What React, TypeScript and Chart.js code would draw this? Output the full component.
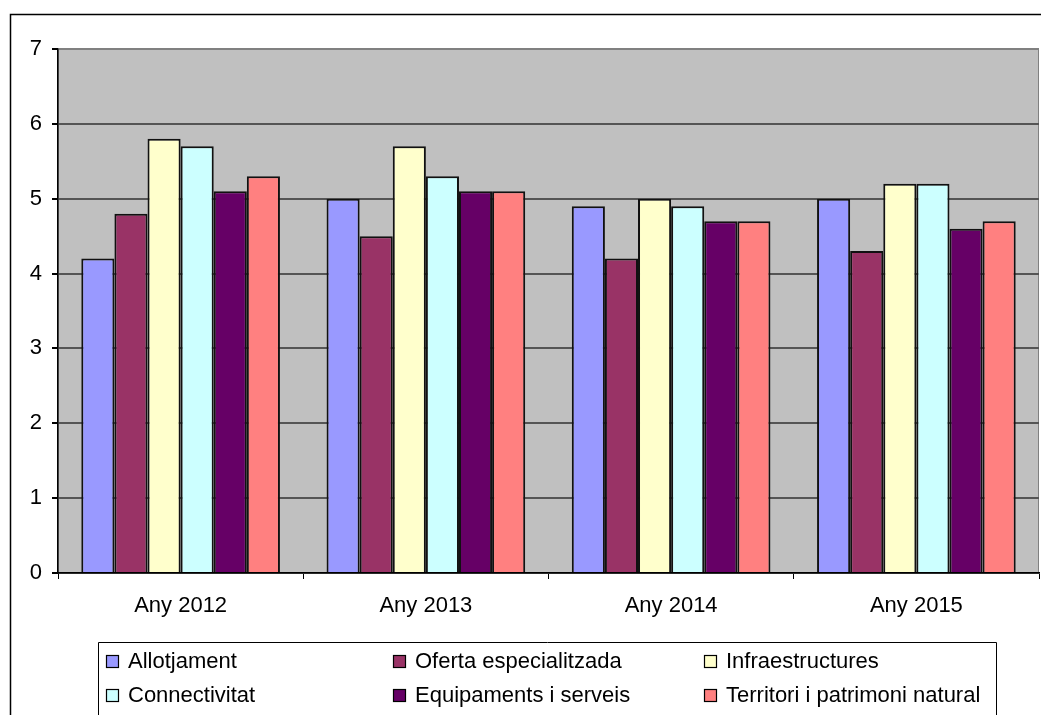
import React, { useEffect, useRef } from "react";
import { Chart, registerables } from "chart.js";

Chart.register(...registerables);

const categories = ["Any 2012", "Any 2013", "Any 2014", "Any 2015"];
const seriesNames = [
  "Allotjament",
  "Oferta especialitzada",
  "Infraestructures",
  "Connectivitat",
  "Equipaments i serveis",
  "Territori i patrimoni natural",
];
const allotjament = [4.2, 5.0, 4.9, 5.0];
const ofertaEspecialitzada = [4.8, 4.5, 4.2, 4.3];
const infraestructures = [5.8, 5.7, 5.0, 5.2];
const connectivitat = [5.7, 5.3, 4.9, 5.2];
const equipaments = [5.1, 5.1, 4.7, 4.6];
const territori = [5.3, 5.1, 4.7, 4.7];
const seriesColors = ["#9999FF", "#993366", "#FFFFCC", "#CCFFFF", "#660066", "#FF8080"];
const yMin = 0;
const yMax = 7;
const yStep = 1;

const FONT = "'Liberation Sans', Arial, sans-serif";

const framePlugin = {
  id: "frame",
  beforeDraw(chart: any) {
    const { ctx, chartArea, width, height } = chart;
    ctx.save();
    ctx.fillStyle = "#ffffff";
    ctx.fillRect(0, 0, width, height);
    ctx.fillStyle = "#C0C0C0";
    ctx.fillRect(chartArea.left, chartArea.top, chartArea.right - chartArea.left, chartArea.bottom - chartArea.top);
    ctx.strokeStyle = "#808080";
    ctx.lineWidth = 1;
    ctx.strokeRect(chartArea.left + 0.5, chartArea.top + 0.5, chartArea.right - chartArea.left - 1, chartArea.bottom - chartArea.top);
    ctx.restore();
  },
  afterDraw(chart: any) {
    const { ctx, width, height } = chart;
    ctx.save();
    ctx.strokeStyle = "#000";
    ctx.lineWidth = 1.5;
    ctx.beginPath();
    ctx.moveTo(10.5, height + 2);
    ctx.lineTo(10.5, 14.5);
    ctx.lineTo(width + 2, 14.5);
    ctx.stroke();
    ctx.lineWidth = 1;
    ctx.beginPath();
    ctx.moveTo(98.5, height + 2);
    ctx.lineTo(98.5, 642.5);
    ctx.lineTo(996.5, 642.5);
    ctx.lineTo(996.5, height + 2);
    ctx.stroke();
    const colX = [106, 393, 704];
    const rowY = [661, 695];
    ctx.font = "22px " + FONT;
    ctx.textBaseline = "middle";
    ctx.textAlign = "left";
    chart.data.datasets.forEach((ds: any, i: number) => {
      const x = colX[i % 3];
      const y = rowY[Math.floor(i / 3)];
      ctx.fillStyle = ds.backgroundColor;
      ctx.fillRect(x, y - 6, 12, 12);
      ctx.strokeStyle = "#000";
      ctx.lineWidth = 1.2;
      ctx.strokeRect(x + 0.5, y - 5.5, 12, 12);
      ctx.fillStyle = "#000";
      ctx.fillText(ds.label, x + 22, y + 1);
    });
    ctx.restore();
  },
};

export default function App() {
  const ref = useRef<HTMLCanvasElement | null>(null);
  useEffect(() => {
    if (!ref.current) return;
    const values = [allotjament, ofertaEspecialitzada, infraestructures, connectivitat, equipaments, territori];
    const chart = new Chart(ref.current, {
      type: "bar",
      data: {
        labels: categories,
        datasets: values.map((v, i) => ({
          label: seriesNames[i],
          data: v,
          backgroundColor: seriesColors[i],
          borderColor: "#111111",
          borderWidth: 2,
          categoryPercentage: 0.81,
          barPercentage: 1,
        })),
      },
      options: {
        responsive: true,
        maintainAspectRatio: false,
        animation: false,
        layout: { padding: { left: 10, top: 49, right: 2, bottom: 0 } },
        plugins: {
          legend: { display: false },
          tooltip: { enabled: false },
        },
        scales: {
          x: {
            afterFit(scale: any) {
              scale.height = 142;
            },
            grid: {
              display: true,
              drawOnChartArea: false,
              offset: true,
              tickLength: 6,
              color: "#000",
              tickColor: "#000",
            },
            border: { display: true, color: "#000", width: 1.5 },
            ticks: {
              color: "#000",
              font: { family: FONT, size: 22 },
              padding: 14,
              maxRotation: 0,
            },
          },
          y: {
            min: yMin,
            max: yMax,
            afterFit(scale: any) {
              scale.width = 48;
            },
            grid: {
              color: (c: any) => (c.tick && c.tick.value === yMax ? "#808080" : "#555555"),
              lineWidth: 2,
              tickLength: 6,
              tickColor: "#000",
            },
            border: { display: true, color: "#000", width: 1.5 },
            ticks: {
              stepSize: yStep,
              color: "#000",
              font: { family: FONT, size: 22 },
              padding: 10,
            },
          },
        },
      },
      plugins: [framePlugin],
    });
    return () => chart.destroy();
  }, []);
  return (
    <div style={{ position: "absolute", left: 0, top: 0, width: 1041, height: 715 }}>
      <canvas ref={ref} />
    </div>
  );
}
